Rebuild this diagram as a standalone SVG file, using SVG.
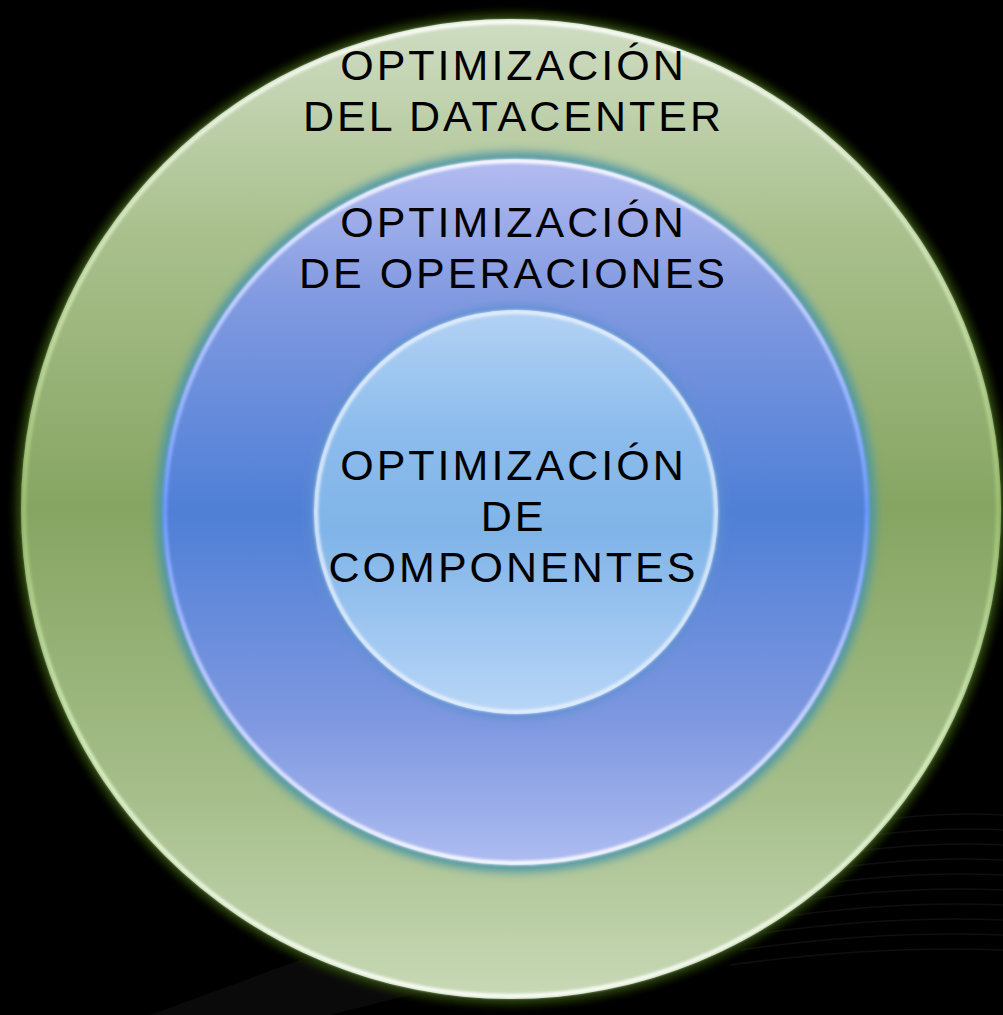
<svg xmlns="http://www.w3.org/2000/svg" width="1003" height="1015" viewBox="0 0 1003 1015">
  <style>
    .lbl { font-family: "Liberation Sans", Arial, sans-serif; font-size: 43px; letter-spacing: 3px; fill: #000; text-anchor: middle; }
  </style>
  <defs>
    <linearGradient id="gOuter" x1="0" y1="0" x2="0" y2="1">
      <stop offset="0" stop-color="#cfddc3"/>
      <stop offset="0.22" stop-color="#a9c08d"/>
      <stop offset="0.5" stop-color="#86a562"/>
      <stop offset="0.8" stop-color="#a7bf8c"/>
      <stop offset="1" stop-color="#c8d9b6"/>
    </linearGradient>
    <linearGradient id="gOuterRim" x1="0" y1="0" x2="0" y2="1">
      <stop offset="0" stop-color="#ffffff"/>
      <stop offset="0.3" stop-color="#c8e0a8"/>
      <stop offset="0.5" stop-color="#9cc070"/>
      <stop offset="0.75" stop-color="#d8f0c0"/>
      <stop offset="1" stop-color="#ffffff"/>
    </linearGradient>
    <linearGradient id="gMid" x1="0" y1="0" x2="0" y2="1">
      <stop offset="0" stop-color="#b3bcf1"/>
      <stop offset="0.2" stop-color="#8199e0"/>
      <stop offset="0.5" stop-color="#4f7fd6"/>
      <stop offset="0.8" stop-color="#7f98e0"/>
      <stop offset="1" stop-color="#aebcf1"/>
    </linearGradient>
    <linearGradient id="gMidRim" x1="0" y1="0" x2="0" y2="1">
      <stop offset="0" stop-color="#ffffff"/>
      <stop offset="0.35" stop-color="#9ab8ff"/>
      <stop offset="0.5" stop-color="#6f9cff"/>
      <stop offset="0.7" stop-color="#b8c8ff"/>
      <stop offset="1" stop-color="#ffffff"/>
    </linearGradient>
    <linearGradient id="gIn" x1="0" y1="0" x2="0" y2="1">
      <stop offset="0" stop-color="#b3d2f4"/>
      <stop offset="0.3" stop-color="#8cbcec"/>
      <stop offset="0.55" stop-color="#80b4e8"/>
      <stop offset="1" stop-color="#b8d6f7"/>
    </linearGradient>
    <filter id="blur6" x="-20%" y="-20%" width="140%" height="140%">
      <feGaussianBlur stdDeviation="5"/>
    </filter>
    <filter id="blur2" x="-10%" y="-10%" width="120%" height="120%">
      <feGaussianBlur stdDeviation="1.5"/>
    </filter>
  </defs>

  <rect x="0" y="0" width="1003" height="1015" fill="#000"/>

  <g id="background-streaks" fill="none" stroke="#ffffff" stroke-opacity="0.06" stroke-width="1.5">
    <path d="M 820 830 Q 920 810 1003 815"/>
    <path d="M 810 845 Q 915 825 1003 830"/>
    <path d="M 800 860 Q 910 840 1003 845"/>
    <path d="M 790 875 Q 905 855 1003 860"/>
    <path d="M 780 890 Q 900 870 1003 875"/>
    <path d="M 770 905 Q 895 885 1003 890"/>
    <path d="M 760 920 Q 890 900 1003 905"/>
    <path d="M 750 935 Q 885 915 1003 920"/>
    <path d="M 740 950 Q 880 930 1003 935"/>
    <path d="M 730 965 Q 875 945 1003 950"/>
  </g>
  <polygon points="150,1015 300,960 470,980 330,1015" fill="#ffffff" fill-opacity="0.04"/>

  <g id="node-datacenter">
    <circle cx="511" cy="509" r="495" fill="#2e4a0c" filter="url(#blur6)"/>
    <circle cx="511" cy="509" r="490" fill="url(#gOuter)"/>
    <circle cx="511" cy="509" r="487" fill="none" stroke="url(#gOuterRim)" stroke-width="4" filter="url(#blur2)"/>
    <text class="lbl" x="513.5" y="80">OPTIMIZACIÓN</text>
    <text class="lbl" x="513.5" y="131">DEL DATACENTER</text>
  </g>

  <g id="node-operaciones">
    <circle cx="516" cy="512" r="360" fill="#4f97a6" filter="url(#blur6)"/>
    <circle cx="516" cy="512" r="353" fill="url(#gMid)"/>
    <circle cx="516" cy="512" r="351" fill="none" stroke="url(#gMidRim)" stroke-width="4" filter="url(#blur2)"/>
    <text class="lbl" x="513.5" y="237">OPTIMIZACIÓN</text>
    <text class="lbl" x="513.5" y="288">DE OPERACIONES</text>
  </g>

  <g id="node-componentes">
    <circle cx="516" cy="512" r="206" fill="#5d8fd0" filter="url(#blur6)"/>
    <circle cx="516" cy="512" r="202" fill="url(#gIn)"/>
    <circle cx="516" cy="512" r="200" fill="none" stroke="#eef6ff" stroke-opacity="0.85" stroke-width="4" filter="url(#blur2)"/>
    <text class="lbl" x="513.5" y="480">OPTIMIZACIÓN</text>
    <text class="lbl" x="513.5" y="531">DE</text>
    <text class="lbl" x="513.5" y="582">COMPONENTES</text>
  </g>

  <g id="connectors"/>
</svg>
